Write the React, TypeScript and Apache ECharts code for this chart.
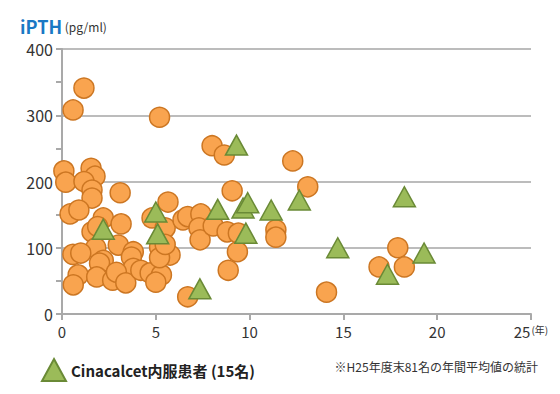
import React, { useEffect, useRef } from "react";
import * as echarts from "echarts";

// Non-Cinacalcet patients: dialysis years, iPTH (pg/ml)
const otherYears = [
  0.59, 1.17, 0.1, 0.2, 1.55, 1.76, 1.17, 1.6, 1.6, 3.1,
  0.43, 0.9, 2.2, 1.6, 1.9, 3.15, 1.8, 0.58, 1.0, 3.0,
  3.8, 3.7, 2.2, 2.0, 3.8, 0.86, 0.6, 1.85, 2.7, 2.9,
  3.4, 4.2, 4.7, 5.3, 5.0, 4.8, 5.65, 5.5, 5.2, 5.76,
  5.2, 6.45, 6.7, 5.2, 8.0, 8.65, 12.3, 13.1, 9.07, 6.7,
  7.4, 7.3, 7.36, 8.06, 8.8, 9.4, 9.35, 11.4, 11.4, 8.86,
  14.1, 17.9, 16.9, 18.25, 5.5,
];
const otherIPTH = [
  308, 341, 216, 199, 220, 208, 200, 187, 175, 183,
  151, 157, 145, 124, 132, 136, 100, 90, 92, 104,
  94, 86, 81, 77, 69, 59, 44, 56, 51, 63,
  47, 66, 62, 59, 48, 145, 169, 130, 101, 89,
  85, 142, 26, 297, 254, 240, 231, 192, 186, 147,
  151, 130, 112, 133, 124, 122, 94, 127, 116, 66,
  33, 100, 71, 71, 105,
];

// Cinacalcet patients (15)
const cinaYears = [2.2, 5.0, 5.1, 7.35, 8.3, 9.3, 9.65, 9.9, 9.8, 11.15, 12.65, 14.7, 17.35, 18.25, 19.3];
const cinaIPTH = [128, 154, 121, 38, 158, 255, 160, 168, 122, 157, 172, 100, 60, 177, 92];

const xTicks = [0, 5, 10, 15, 20, 25];
const yTicks = [0, 100, 200, 300, 400];

const cinaName = "Cinacalcet内服患者 (15名)";
const FONT = "'Noto Sans CJK JP', 'Noto Sans', sans-serif";

export default function App() {
  const ref = useRef<HTMLDivElement>(null);

  useEffect(() => {
    if (!ref.current) return;
    const chart = echarts.init(ref.current, undefined, { renderer: "svg" });
    const otherData = otherYears.map((x, i) => [x, otherIPTH[i]]);
    const cinaData = cinaYears.map((x, i) => [x, cinaIPTH[i]]);

    chart.setOption({
      animation: false,
      textStyle: { fontFamily: FONT },
      grid: { left: 62, right: 29, top: 49, bottom: 80, containLabel: false },
      title: {
        text: "iPTH{u| (pg/ml)}",
        left: 20,
        top: 16,
        padding: 0,
        textStyle: {
          fontFamily: FONT,
          fontSize: 18,
          lineHeight: 20,
          fontWeight: "bold",
          color: "#1a78c4",
          rich: {
            u: { fontFamily: FONT, fontSize: 12, lineHeight: 20, fontWeight: "normal", color: "#333" },
          },
        },
      },
      legend: {
        data: [cinaName],
        left: 36,
        top: 353,
        icon: "triangle",
        itemWidth: 24,
        itemHeight: 22,
        itemGap: 6,
        textStyle: { fontFamily: FONT, fontSize: 15, fontWeight: "bold", color: "#222" },
      },
      graphic: [
        {
          type: "text",
          right: 22,
          top: 360,
          style: {
            text: "※H25年度末81名の年間平均値の統計",
            font: `12px ${FONT}`,
            fill: "#333",
          },
        },
      ],
      xAxis: {
        type: "value",
        min: xTicks[0],
        max: xTicks[xTicks.length - 1],
        interval: 5,
        axisLine: { show: true, lineStyle: { color: "#a9a9a9", width: 2 } },
        axisTick: { show: true, length: 6, lineStyle: { color: "#a9a9a9", width: 2 } },
        splitLine: { show: false },
        axisLabel: {
          margin: 10,
          fontSize: 15,
          color: "#333",
          fontFamily: FONT,
          formatter: (v: number) => (v === 25 ? "25{u|(年)}" : String(v)),
          rich: { u: { fontSize: 10, color: "#333", fontFamily: FONT, padding: [0, 0, 4, 1] } },
        },
      },
      yAxis: {
        type: "value",
        min: yTicks[0],
        max: yTicks[yTicks.length - 1],
        interval: 100,
        axisLine: { show: true, lineStyle: { color: "#a9a9a9", width: 2 } },
        axisTick: { show: true, length: 6, lineStyle: { color: "#a9a9a9", width: 2 } },
        minorTick: { show: true, splitNumber: 2, length: 6, lineStyle: { color: "#a9a9a9", width: 2 } },
        splitLine: { show: true, lineStyle: { color: "#bcbcbc", width: 2 } },
        axisLabel: { margin: 9, fontSize: 16, color: "#333", fontFamily: FONT },
      },
      series: [
        {
          name: "非内服患者",
          type: "scatter",
          data: otherData,
          symbol: "circle",
          symbolSize: 20,
          itemStyle: { color: "#F9A44F", borderColor: "#CC7622", borderWidth: 1.5, opacity: 1 },
          z: 2,
        },
        {
          name: cinaName,
          type: "scatter",
          data: cinaData,
          symbol: "triangle",
          symbolSize: [22, 20],
          itemStyle: { color: "#9BBB59", borderColor: "#6A8A36", borderWidth: 1.5, opacity: 1 },
          z: 3,
        },
      ],
    });
    return () => chart.dispose();
  }, []);

  return <div ref={ref} style={{ width: 560, height: 394, position: "absolute", left: 0, top: 0 }} />;
}
